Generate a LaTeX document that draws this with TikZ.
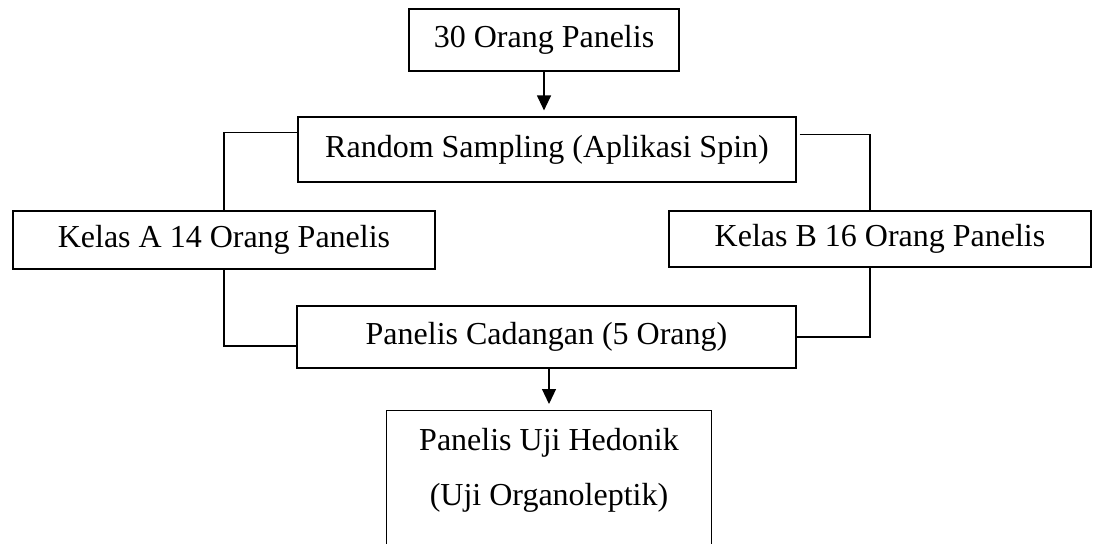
\documentclass[tikz,border=0pt]{standalone}
\usepackage{fontspec}
\setmainfont{Liberation Serif}
\usetikzlibrary{arrows.meta}

\begin{document}
\begin{tikzpicture}[x=0.5pt,y=-0.5pt,
    kotak/.style={draw,line width=0.6pt,inner sep=0pt,font=\fontsize{16}{27.5}\selectfont},
    panah/.style={-{Triangle[width=7pt,length=7.5pt]},line width=0.6pt,shorten >=3pt},
    garis/.style={line width=0.6pt}]
\useasboundingbox (0,0) rectangle (1098,543);
% kotak-kotak alur
\node[kotak,minimum width=135pt,minimum height=31pt] (panelis) at (544,40) {30 Orang Panelis};
\node[kotak,minimum width=249pt,minimum height=32.5pt] (random) at (547,149.5) {Random Sampling (Aplikasi Spin)};
\node[kotak,minimum width=211pt,minimum height=29pt] (kelasA) at (224,240) {Kelas A 14 Orang Panelis};
\node[kotak,minimum width=211pt,minimum height=28pt] (kelasB) at (880,239) {Kelas B 16 Orang Panelis};
\node[kotak,minimum width=249.5pt,minimum height=31pt] (cadangan) at (546.5,337) {Panelis Cadangan (5 Orang)};
\node[kotak,align=center,anchor=north,minimum width=162.5pt,text depth=40pt,inner ysep=9pt] (hedonik) at (549,410) {Panelis Uji Hedonik\\(Uji Organoleptik)};
% panah dan garis penghubung
\draw[panah] (panelis.south) -- (panelis.south |- random.north);
\draw[panah] (cadangan.south -| hedonik.north) -- (hedonik.north);
\draw[garis] ([yshift=-8pt]random.north west) -| (kelasA.north);
\draw[garis] ([xshift=1.5pt,yshift=-9pt]random.north east) -| ([xshift=-5pt]kelasB.north);
\draw[garis] (kelasA.south) |- ([yshift=-4.5pt]cadangan.west);
\draw[garis] ([xshift=-5pt]kelasB.south) |- (cadangan.east);
\end{tikzpicture}
\end{document}
